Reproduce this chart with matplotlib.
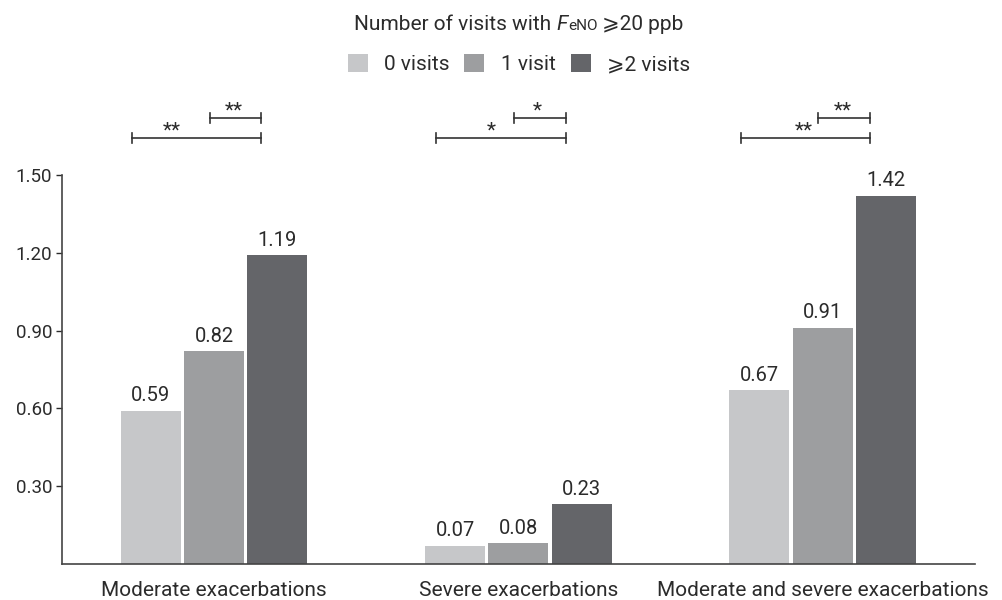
import matplotlib.pyplot as plt
import numpy as np
from matplotlib.patches import Patch

plt.rcParams['font.family'] = ['Roboto', 'DejaVu Sans']

categories = ["Moderate exacerbations", "Severe exacerbations", "Moderate and severe exacerbations"]
series_names = ["0 visits", "1 visit", "\u2a7e2 visits"]
values = [
    [0.59, 0.07, 0.67],
    [0.82, 0.08, 0.91],
    [1.19, 0.23, 1.42],
]
y_ticks = [0.30, 0.60, 0.90, 1.20, 1.50]

# significance brackets per group: (long label, short label)
sig_labels = [("**", "**"), ("*", "*"), ("**", "**")]
long_star_x = [-0.138, -0.089, -0.063]
short_star_x = [0.066, 0.063, 0.066]

colors = ["#c6c7c9", "#9d9ea0", "#646569"]
text_col = "#2b2b2b"

fig = plt.figure(figsize=(10.03, 6.0), dpi=100)
ax = fig.add_axes([0.0618, 0.06, 0.9102, 0.6483])

x = np.arange(len(categories))
step = 0.208
width = 0.197
for i, (vals, col) in enumerate(zip(values, colors)):
    pos = x + (i - 1) * step
    ax.bar(pos, vals, width=width, color=col, zorder=2)
    for p, v in zip(pos, vals):
        ax.text(p, v + 0.022, f"{v:.2f}", ha="center", va="bottom",
                fontsize=14.5, color=text_col)

ax.set_xlim(-0.5, 2.5)
ax.set_ylim(0, 1.5)
ax.set_yticks(y_ticks)
ax.set_yticklabels([f"{t:.2f}" for t in y_ticks])
ax.set_xticks(x)
ax.set_xticklabels(categories)
ax.tick_params(axis="x", length=0, pad=12, labelsize=15, colors=text_col)
ax.tick_params(axis="y", length=4, width=1, pad=3, labelsize=13.5, colors=text_col)
for s in ["top", "right"]:
    ax.spines[s].set_visible(False)
for s in ["left", "bottom"]:
    ax.spines[s].set_color("#444444")
    ax.spines[s].set_linewidth(1.2)


def bracket(x0, x1, y, label, lx):
    h = 0.018
    kw = dict(color="#333333", lw=1.2, clip_on=False, transform=ax.transData)
    ax.plot([x0, x1], [y, y], **kw)
    ax.plot([x0, x0], [y - h, y + h], **kw)
    ax.plot([x1, x1], [y - h, y + h], **kw)
    ax.text(lx, y + 0.004, label, ha="center", va="baseline", fontsize=15,
            color=text_col, clip_on=False)


for g in range(len(categories)):
    lab_long, lab_short = sig_labels[g]
    bracket(g - 0.27, g + 0.155, 1.643, lab_long, g + long_star_x[g])
    bracket(g - 0.015, g + 0.155, 1.72, lab_short, g + short_star_x[g])

# title with italic F and small "eNO"
fig.canvas.draw()
r = fig.canvas.get_renderer()
pieces = [("Number of visits with ", 15, "normal"), ("F", 15, "italic"),
          ("eNO", 11, "normal"), (" \u2a7e20 ppb", 15, "normal")]
objs = []
for txt, fs, st in pieces:
    t = fig.text(0, 1 - 30 / 600, txt, fontsize=fs, style=st, color=text_col,
                 ha="left", va="baseline")
    objs.append(t)
widths = [t.get_window_extent(r).width for t in objs]
xpos = 519 - sum(widths) / 2
for t, w in zip(objs, widths):
    t.set_x(xpos / 1003)
    xpos += w

handles = [Patch(facecolor=c, edgecolor="none") for c in colors]
fig.legend(handles, series_names, loc="center", bbox_to_anchor=(519 / 1003, 1 - 64 / 600),
           ncol=3, frameon=False, fontsize=15, handlelength=0.96, handleheight=0.96,
           handletextpad=0.8, columnspacing=0.7, labelcolor=text_col)

fig.savefig("out.png", dpi=100)
